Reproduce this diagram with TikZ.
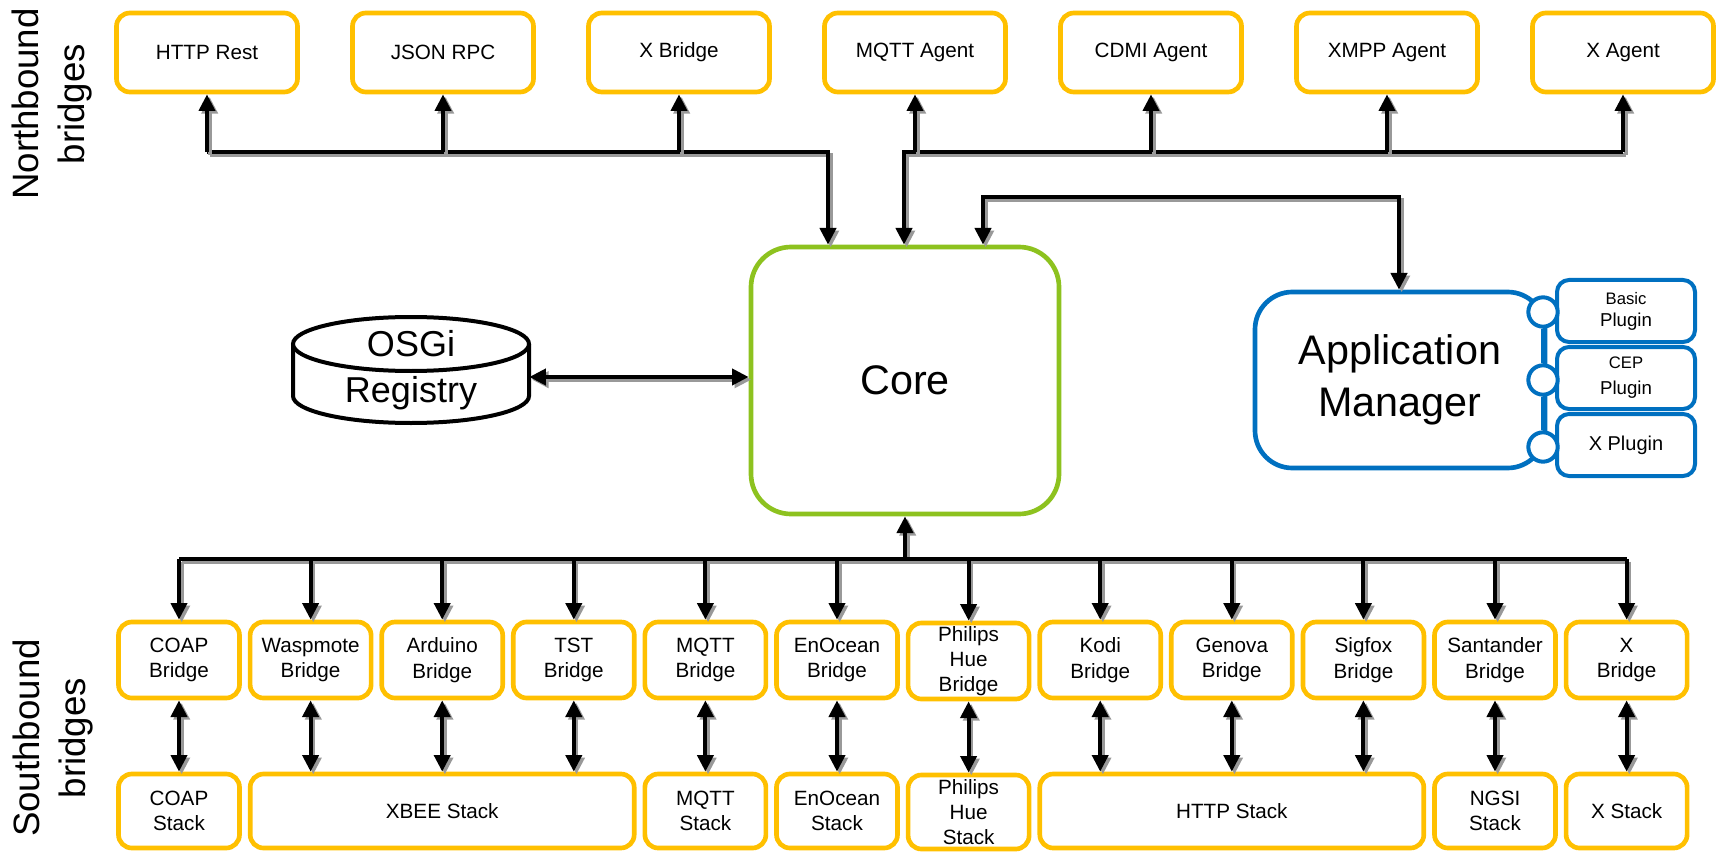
\documentclass[tikz,border=0pt]{standalone}
\usepackage{fontspec}
\setmainfont{Liberation Sans}
\usetikzlibrary{arrows.meta}
\definecolor{yel}{HTML}{FFC000}
\definecolor{grn}{HTML}{8DC21F}
\definecolor{blu}{HTML}{0070C0}
\definecolor{shd}{HTML}{999999}
\begin{document}
\begin{tikzpicture}[x=0.75pt,y=-0.75pt,
  >={Triangle[width=12pt,length=12.5pt]},
  ybox/.style={draw=yel, line width=3.5pt, rounded corners=10pt, fill=white, inner sep=0pt, align=center},
  topbox/.style={ybox, minimum width=135.75pt, minimum height=59.25pt, font=\fontsize{15.5}{19}\selectfont},
  brbox/.style={ybox, minimum width=90.75pt, minimum height=57pt, font=\fontsize{15.5}{19}\selectfont},
  stbox/.style={ybox, minimum width=90.75pt, minimum height=55.5pt, font=\fontsize{15.5}{19}\selectfont},
  plug/.style={draw=blu, line width=3pt, rounded corners=9pt, fill=white, minimum width=103.5pt, minimum height=46.5pt, inner sep=0pt, align=center},
  socket/.style={circle, draw=blu, line width=3pt, fill=white, minimum size=22pt, inner sep=0pt},
  conn/.style={line width=3pt, draw=black, preaction={draw=shd, line width=3pt, transform canvas={shift={(2pt,-2pt)}}}},
  sidelabel/.style={rotate=90, align=center, font=\fontsize{27.5}{34}\selectfont}
]
\useasboundingbox (0,0) rectangle (1720,852);

% side labels
\node[sidelabel] (nbl) at (52,104) {Northbound\\bridges};
\node[sidelabel] (sbl) at (53,738) {Southbound\\bridges};

% northbound boxes
\node[topbox] (n1) at (207,52.5) {HTTP Rest};
\node[topbox] (n2) at (443,52.5) {JSON RPC};
\node[topbox] (n3) at (679,52.5) {X Bridge};
\node[topbox] (n4) at (915,52.5) {MQTT Agent};
\node[topbox] (n5) at (1151,52.5) {CDMI Agent};
\node[topbox] (n6) at (1387,52.5) {XMPP Agent};
\node[topbox] (n7) at (1623,52.5) {X Agent};

% core
\node[draw=grn, line width=3.5pt, rounded corners=30pt, minimum width=231pt, minimum height=200.25pt, fill=white, font=\fontsize{31}{37}\selectfont] (core) at (905,380.5) {Core};

% OSGi registry cylinder
\fill[white] (293,344) rectangle (529,396);
\draw[line width=3pt, fill=white] (293,344) -- (293,396) arc[start angle=180, end angle=360, x radius=88.5pt, y radius=20.25pt] -- (529,344);
\draw[line width=3pt, fill=white] (411,344) ellipse [x radius=88.5pt, y radius=20.25pt];
\node[minimum width=177pt, minimum height=80pt, inner sep=0pt, align=center, font=\fontsize{27}{34.5}\selectfont] (osgi) at (411,370) {OSGi\\Registry};

% application manager
\node[draw=blu, line width=3.5pt, rounded corners=28pt, minimum width=217.5pt, minimum height=132pt, fill=white, align=center, font=\fontsize{31}{39}\selectfont] (app) at (1400,380) {Application\\Manager};
\node[plug, font=\fontsize{14}{16.5}\selectfont] (p1) at (1626,311) {{\fontsize{12.5}{16.5}\selectfont Basic}\\Plugin};
\node[plug, font=\fontsize{14}{19.5}\selectfont] (p2) at (1626,378) {{\fontsize{12.5}{19.5}\selectfont CEP}\\Plugin};
\node[plug, font=\fontsize{15}{18}\selectfont] (p3) at (1626,445) {X Plugin};
\node[socket] (c1) at (1543,312) {};
\node[socket] (c2) at (1543,380) {};
\node[socket] (c3) at (1543,447) {};
\draw[blu, line width=3pt] (c1.south) -- (c2.north) (c2.south) -- (c3.north);

% southbound bridges
\node[brbox] (b0) at (179,660) {COAP\\Bridge};
\node[brbox] (b1) at (310.6,660) {Waspmote\\Bridge};
\node[brbox] (b2) at (442.2,660) {Arduino\\Bridge};
\node[brbox] (b3) at (573.8,660) {TST\\Bridge};
\node[brbox] (b4) at (705.4,660) {MQTT\\Bridge};
\node[brbox] (b5) at (837,660) {EnOcean\\Bridge};
\node[brbox] (b6) at (968.6,661) {Philips\\Hue\\Bridge};
\node[brbox] (b7) at (1100.2,660) {Kodi\\Bridge};
\node[brbox] (b8) at (1231.8,660) {Genova\\Bridge};
\node[brbox] (b9) at (1363.4,660) {Sigfox\\Bridge};
\node[brbox] (b10) at (1495,660) {Santander\\Bridge};
\node[brbox] (b11) at (1626.6,660) {X\\Bridge};

% stacks
\node[stbox] (s0) at (179,811) {COAP\\Stack};
\node[stbox, minimum width=288pt] (s1) at (442.2,811) {XBEE Stack};
\node[stbox] (s4) at (705.4,811) {MQTT\\Stack};
\node[stbox] (s5) at (837,811) {EnOcean\\Stack};
\node[stbox] (s6) at (968.6,812) {Philips\\Hue\\Stack};
\node[stbox, minimum width=288pt] (s7) at (1231.8,811) {HTTP Stack};
\node[stbox] (s10) at (1495,811) {NGSI\\Stack};
\node[stbox] (s11) at (1626.6,811) {X Stack};

% junction coordinates
\coordinate (jL) at (828,152);
\coordinate (jR) at (904,152);
\coordinate (jA) at (983,197);
\coordinate (jB) at (1399,197);
\coordinate (jS) at (905,559);
\coordinate (oe) at ([yshift=-5.25pt]osgi.east);

% northbound connectors
\draw[conn,->] (n1.south |- jL) -- (jL) -- (core.north -| jL);
\foreach \n in {n1,n2,n3} \draw[conn,->] (\n.south |- jL) -- (\n.south);
\draw[conn,->] (n7.south |- jR) -- (jR) -- (core.north -| jR);
\foreach \n in {n4,n5,n6,n7} \draw[conn,->] (\n.south |- jR) -- (\n.south);

% core <-> application manager
\draw[conn,<->] (core.north -| jA) -- (jA) -- (jB) -- (app.north -| jB);

% OSGi <-> core
\draw[conn,<->] (oe) -- (oe -| core.west);

% southbound connectors
\draw[conn,->] (jS) -- (core.south);
\draw[conn] (b0.north |- jS) -- (b11.north |- jS);
\foreach \b in {b0,b1,b2,b3,b4,b5,b6,b7,b8,b9,b10,b11} \draw[conn,->] (\b.north |- jS) -- (\b.north);

% bridge <-> stack
\foreach \b/\s in {b0/s0,b1/s1,b2/s1,b3/s1,b4/s4,b5/s5,b6/s6,b7/s7,b8/s7,b9/s7,b10/s10,b11/s11}
  \draw[conn,<->] (\b.south) -- (\b.south |- \s.north);
\end{tikzpicture}
\end{document}
